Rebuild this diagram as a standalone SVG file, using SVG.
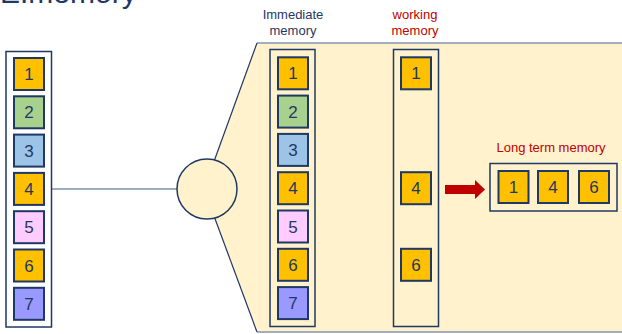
<svg xmlns="http://www.w3.org/2000/svg" width="622" height="334" viewBox="0 0 622 334">
<style>
.col{fill:#ffffff;stroke:#1F3864;stroke-width:1.5}
.colb{fill:none;stroke:#1F3864;stroke-width:1.5}
.b{stroke:#1F3864;stroke-width:2}
.o{fill:#FFC000}.g{fill:#A9D18E}.bl{fill:#9DC3E6}.p{fill:#FFCCFF}.v{fill:#9999FF}
.n{font-family:"Liberation Sans",Arial,sans-serif;font-size:17px;fill:#1F3864;text-anchor:middle}
.lbl{font-family:"Liberation Sans",Arial,sans-serif;font-size:13px;text-anchor:middle}
</style>
<text x="0" y="3" font-family="Liberation Sans, Arial, sans-serif" font-size="30" fill="#1F3864">E.memory</text>

<g id="stage-area">
<polygon points="257,43 622,43 622,332 257,332 204,189" fill="#FFF2CC"/>
<line x1="257" y1="43" x2="622" y2="43" stroke="#8496B0" stroke-width="1.5"/>
<line x1="257" y1="332" x2="622" y2="332" stroke="#8496B0" stroke-width="1.5"/>
<line x1="257" y1="43" x2="204" y2="189" stroke="#1F3864" stroke-width="1.2"/>
<line x1="257" y1="332" x2="204" y2="189" stroke="#1F3864" stroke-width="1.2"/>
</g>

<g id="connectors">
<line x1="52" y1="189" x2="177" y2="189" stroke="#7F8FA9" stroke-width="1.5"/>
<rect x="445" y="185" width="31" height="9" fill="#C00000"/>
<polygon points="475,180 485,189.5 475,199" fill="#C00000"/>
</g>

<g id="sensory-input">
<rect class="col" x="6" y="51.5" width="45.5" height="275.5"/>
<rect class="b o" x="14" y="58" width="30" height="32"/><text class="n" x="29" y="80">1</text>
<rect class="b g" x="14" y="96.3" width="30" height="32"/><text class="n" x="29" y="118.3">2</text>
<rect class="b bl" x="14" y="134.6" width="30" height="32"/><text class="n" x="29" y="156.6">3</text>
<rect class="b o" x="14" y="172.9" width="30" height="32"/><text class="n" x="29" y="194.9">4</text>
<rect class="b p" x="14" y="211.2" width="30" height="32"/><text class="n" x="29" y="233.2">5</text>
<rect class="b o" x="14" y="249.5" width="30" height="32"/><text class="n" x="29" y="271.5">6</text>
<rect class="b v" x="14" y="287.8" width="30" height="32"/><text class="n" x="29" y="309.8">7</text>
</g>

<g id="filter">
<circle cx="207" cy="189" r="30" fill="#FFF2CC" stroke="#1F3864" stroke-width="1.5"/>
</g>

<g id="immediate-memory">
<text class="lbl" x="293" y="19" fill="#1F3864">Immediate</text>
<text class="lbl" x="293" y="35" fill="#1F3864">memory</text>
<rect class="colb" x="270" y="49.5" width="45" height="277"/>
<rect class="b o" x="278" y="57.3" width="30" height="32"/><text class="n" x="293" y="79.3">1</text>
<rect class="b g" x="278" y="95.6" width="30" height="32"/><text class="n" x="293" y="117.6">2</text>
<rect class="b bl" x="278" y="133.9" width="30" height="32"/><text class="n" x="293" y="155.9">3</text>
<rect class="b o" x="278" y="172.2" width="30" height="32"/><text class="n" x="293" y="194.2">4</text>
<rect class="b p" x="278" y="210.5" width="30" height="32"/><text class="n" x="293" y="232.5">5</text>
<rect class="b o" x="278" y="248.8" width="30" height="32"/><text class="n" x="293" y="270.8">6</text>
<rect class="b v" x="278" y="287.1" width="30" height="32"/><text class="n" x="293" y="309.1">7</text>
</g>

<g id="working-memory">
<text class="lbl" x="415" y="19" fill="#C00000">working</text>
<text class="lbl" x="415" y="35" fill="#C00000">memory</text>
<rect class="colb" x="393.5" y="49.5" width="45" height="277"/>
<rect class="b o" x="401" y="57.3" width="30" height="32"/><text class="n" x="416" y="79.3">1</text>
<rect class="b o" x="401" y="172.2" width="30" height="32"/><text class="n" x="416" y="194.2">4</text>
<rect class="b o" x="401" y="248.8" width="30" height="32"/><text class="n" x="416" y="270.8">6</text>
</g>

<g id="long-term-memory">
<text class="lbl" x="551" y="152" fill="#C00000">Long term memory</text>
<rect class="colb" x="490" y="163.5" width="127" height="47.5"/>
<rect class="b o" x="498.5" y="171" width="30" height="32"/><text class="n" x="513.5" y="193">1</text>
<rect class="b o" x="538" y="171" width="30" height="32"/><text class="n" x="553" y="193">4</text>
<rect class="b o" x="579" y="171" width="30" height="32"/><text class="n" x="594" y="193">6</text>
</g>
</svg>
